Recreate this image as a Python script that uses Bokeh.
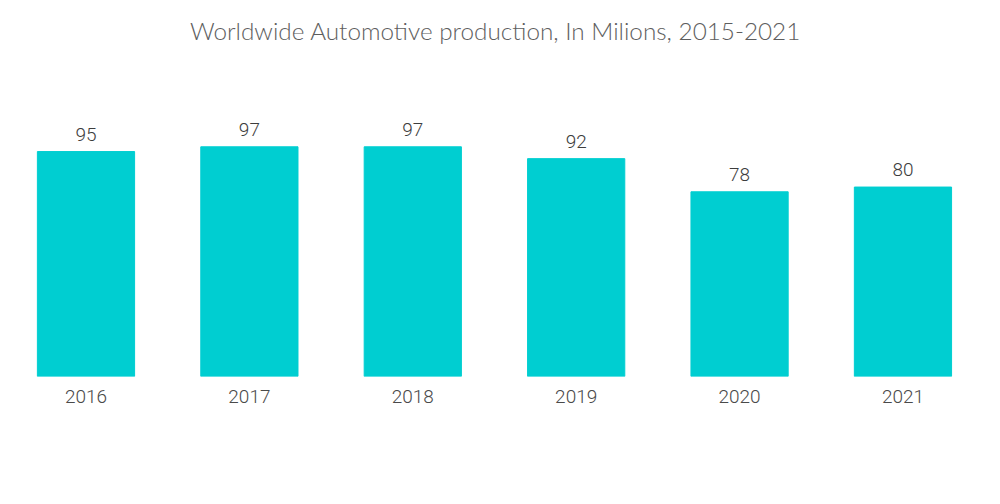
from bokeh.plotting import figure
from bokeh.models import Range1d, FixedTicker, ColumnDataSource, Label
from bokeh.core.properties import value
from bokeh.embed import file_html
from bokeh.resources import INLINE

title = "Worldwide Automotive production, In Milions, 2015-2021"
years = ["2016", "2017", "2018", "2019", "2020", "2021"]
production = [95, 97, 97, 92, 78, 80]

idx = list(range(len(years)))
src = ColumnDataSource(dict(x=idx, top=production, label=[str(v) for v in production]))

x0, x1 = -0.4743, 5.548
y1 = 155.4
p = figure(width=992, height=496, output_backend="svg", toolbar_location=None,
           x_range=Range1d(x0, x1), y_range=Range1d(0, y1),
           y_axis_location=None, min_border_left=8, min_border_right=0,
           min_border_top=8, min_border_bottom=120)

p.outline_line_color = None
p.grid.visible = False
p.background_fill_color = "white"
p.border_fill_color = "white"

p.vbar(x="x", top="top", bottom=0, width=0.595, color="#00CED1", source=src)
p.text(x="x", y="top", text="label", source=src, text_align="center",
       text_baseline="bottom", y_offset=-11, text_font=value("Roboto Light"),
       text_font_style="normal", text_font_size="19px", text_color="#3d3d3d")

p.add_layout(Label(x=(x0 + x1) / 2, y=y1, x_offset=-5, y_offset=-22, text=title,
                   text_align="center", text_baseline="middle",
                   text_font="Lato Light", text_font_size="24.3px",
                   text_color="#5e5e5e"))

ax = p.xaxis[0]
ax.ticker = FixedTicker(ticks=idx)
ax.major_label_overrides = {i: y for i, y in zip(idx, years)}
ax.axis_line_color = None
ax.major_tick_line_color = None
ax.minor_tick_line_color = None
ax.major_tick_out = 0
ax.major_label_standoff = 13
ax.major_label_text_font = "Roboto Light"
ax.major_label_text_font_size = "19px"
ax.major_label_text_color = "#4a4a4a"

open("out.html", "w").write(file_html(p, INLINE))
